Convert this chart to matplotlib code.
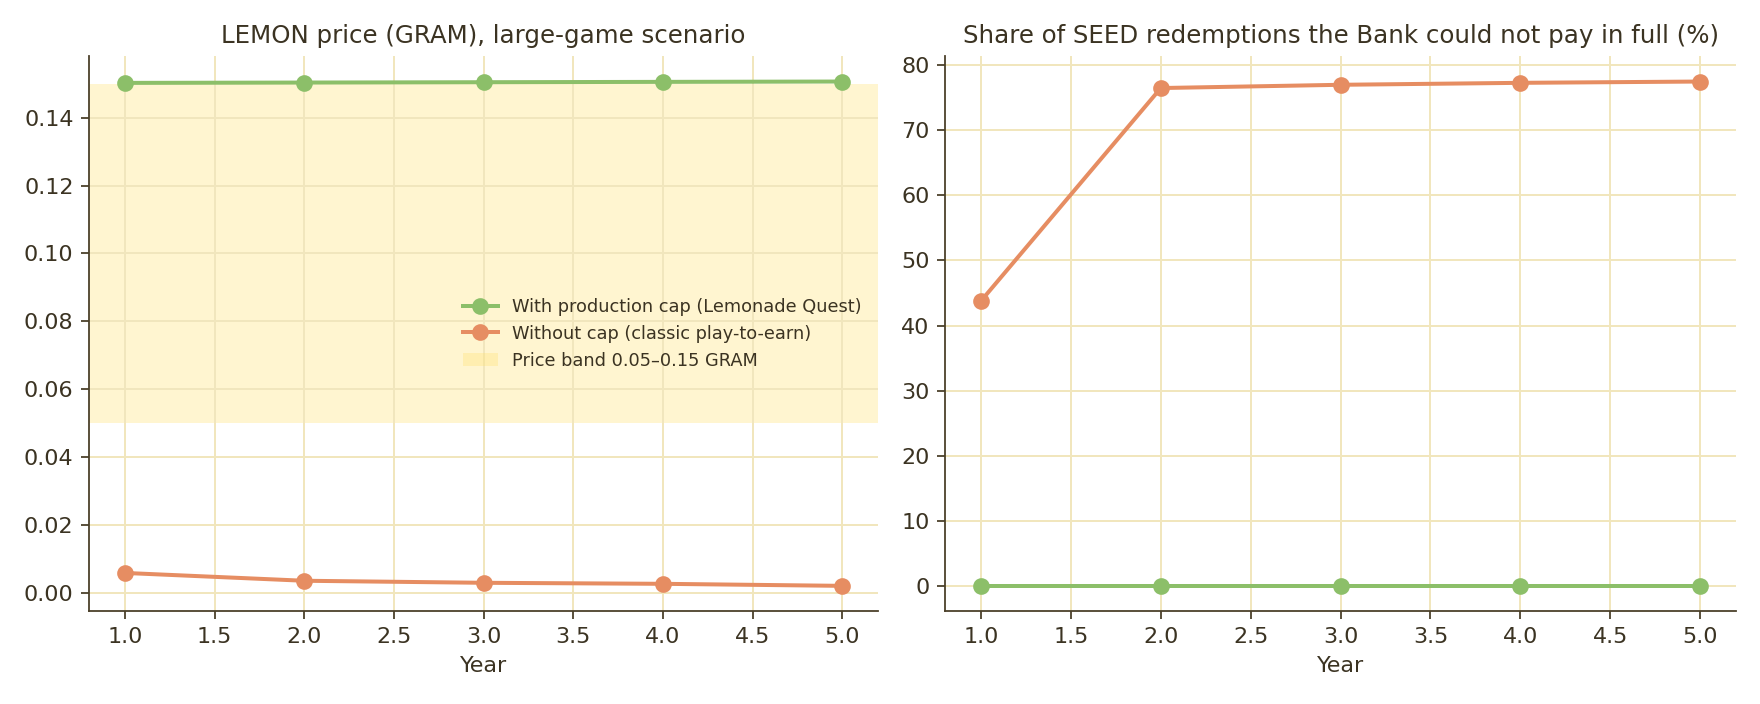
import matplotlib
matplotlib.use("Agg")
import matplotlib.pyplot as plt

years = [1, 2, 3, 4, 5]
price_cap = [0.1502, 0.1503, 0.1504, 0.1505, 0.1506]
price_nocap = [0.0060, 0.0037, 0.0031, 0.0028, 0.0022]
unpaid_cap = [0.0, 0.0, 0.0, 0.0, 0.0]
unpaid_nocap = [43.8, 76.5, 77.0, 77.3, 77.5]
band_low, band_high = 0.05, 0.15

label_cap = "With production cap (Lemonade Quest)"
label_nocap = "Without cap (classic play-to-earn)"
label_band = "Price band 0.05–0.15 GRAM"
title_left = "LEMON price (GRAM), large-game scenario"
title_right = "Share of SEED redemptions the Bank could not pay in full (%)"

GREEN = "#8cbf69"
ORANGE = "#e68d62"
TEXT = "#3b3322"
SPINE = "#4a3f28"
GRID = "#f1e6bd"

plt.rcParams.update({
    "font.family": "DejaVu Sans",
    "text.color": TEXT,
    "axes.labelcolor": TEXT,
    "xtick.color": SPINE,
    "ytick.color": SPINE,
    "xtick.labelcolor": TEXT,
    "ytick.labelcolor": TEXT,
    "axes.edgecolor": SPINE,
})

fig = plt.figure(figsize=(11, 4.4), dpi=160)
ax1 = fig.add_axes([0.0506, 0.132, 0.4483, 0.788])
ax2 = fig.add_axes([0.5370, 0.132, 0.4494, 0.788])

for ax in (ax1, ax2):
    ax.grid(True, color=GRID, linewidth=0.9)
    ax.set_axisbelow(True)
    for s in ("top", "right"):
        ax.spines[s].set_visible(False)
    ax.tick_params(labelsize=10)
    ax.set_xlabel("Year", fontsize=10)

band = ax1.axhspan(band_low, band_high, color="#ffe066", alpha=0.3, linewidth=0, label=label_band, zorder=0.3)
l1, = ax1.plot(years, price_cap, color=GREEN, marker="o", markersize=6.5, linewidth=1.8, label=label_cap, zorder=3)
l2, = ax1.plot(years, price_nocap, color=ORANGE, marker="o", markersize=6.5, linewidth=1.8, label=label_nocap, zorder=3)
ax1.set_title(title_left, fontsize=11, color=TEXT)
ax1.legend(handles=[l1, l2, band], loc="center right", frameon=False, fontsize=8)

ax2.plot(years, unpaid_cap, color=GREEN, marker="o", markersize=6.5, linewidth=1.8, zorder=3)
ax2.plot(years, unpaid_nocap, color=ORANGE, marker="o", markersize=6.5, linewidth=1.8, zorder=3)
ax2.set_title(title_right, fontsize=11, color=TEXT)

fig.savefig("out.png", dpi=160)
